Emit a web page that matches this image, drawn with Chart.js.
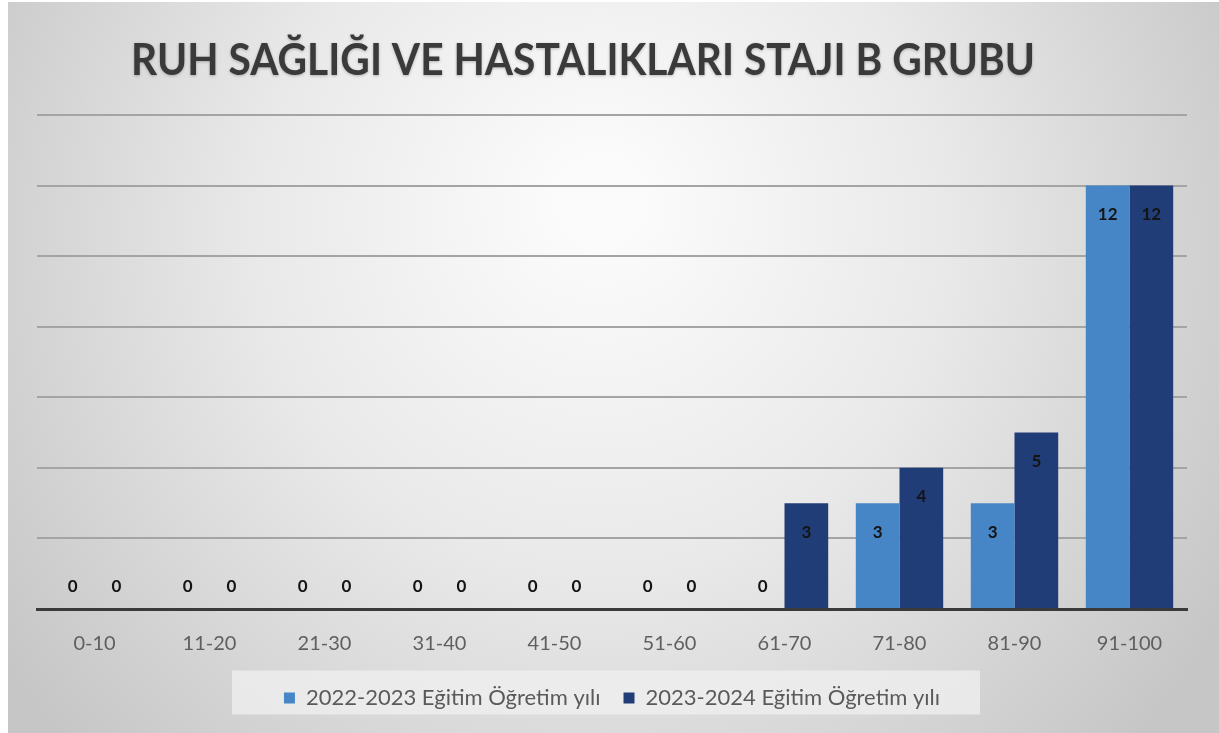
<!DOCTYPE html>
<html>
<head>
<meta charset="utf-8">
<script src="https://cdn.jsdelivr.net/npm/chart.js@4.4.1/dist/chart.umd.min.js"></script>
<style>
  html, body { margin: 0; padding: 0; background: #ffffff; }
  #wrap { width: 1219px; height: 733px; }
</style>
</head>
<body>
<div id="wrap"><canvas id="grades" width="1219" height="733"></canvas></div>
<script>
const chartTitle = 'RUH SAĞLIĞI VE HASTALIKLARI STAJI B GRUBU';
const gradeRanges = ['0-10', '11-20', '21-30', '31-40', '41-50', '51-60', '61-70', '71-80', '81-90', '91-100'];
const seriesNames = ['2022-2023 Eğitim Öğretim yılı', '2023-2024 Eğitim Öğretim yılı'];
const counts2022 = [0, 0, 0, 0, 0, 0, 0, 3, 3, 12];
const counts2023 = [0, 0, 0, 0, 0, 0, 3, 4, 5, 12];

const lightBlue = '#4686c6';
const darkBlue = '#213d78';

// gray slide-style backdrop, bright in the upper middle
const backdrop = {
  id: 'backdrop',
  beforeDraw(chart) {
    const { ctx, width, height } = chart;
    ctx.save();
    ctx.fillStyle = '#ffffff';
    ctx.fillRect(0, 0, width, height);
    const g = ctx.createRadialGradient(600, 200, 40, 600, 260, 720);
    g.addColorStop(0, '#fbfbfb');
    g.addColorStop(0.45, '#e9e9e9');
    g.addColorStop(1, '#c6c6c6');
    ctx.fillStyle = g;
    ctx.fillRect(8, 2, width - 8, height - 2);

    // panel behind the legend
    const lg = chart.legend;
    if (lg && lg.width) {
      ctx.fillStyle = 'rgba(240,240,240,0.75)';
      const mid = lg.top + lg.height / 2;
      ctx.fillRect(232, mid - 21, 748, 44);
    }
    ctx.restore();
  }
};

// big squeezed heading
const heading = {
  id: 'heading',
  afterDraw(chart) {
    const { ctx } = chart;
    ctx.save();
    ctx.font = 'bold 44px Lato';
    ctx.fillStyle = '#3a3a3a';
    ctx.textAlign = 'center';
    ctx.textBaseline = 'middle';
    ctx.shadowColor = 'rgba(0,0,0,0.25)';
    ctx.shadowBlur = 3;
    ctx.shadowOffsetY = 1;
    ctx.fillText(chartTitle, 583, 61, 904);
    ctx.restore();
  }
};

// value labels: inside the top of each bar, just above the axis for zeros
const valueLabels = {
  id: 'valueLabels',
  afterDatasetsDraw(chart) {
    const { ctx } = chart;
    ctx.save();
    ctx.font = 'bold 17px Lato';
    ctx.fillStyle = '#141414';
    ctx.textAlign = 'center';
    ctx.textBaseline = 'middle';
    chart.data.datasets.forEach((ds, i) => {
      const meta = chart.getDatasetMeta(i);
      meta.data.forEach((bar, j) => {
        const v = ds.data[j];
        const y = v === 0 ? bar.y - 22 : bar.y + 29;
        ctx.fillText(String(v), bar.x, y);
      });
    });
    ctx.restore();
  }
};

new Chart(document.getElementById('grades').getContext('2d'), {
  type: 'bar',
  data: {
    labels: gradeRanges,
    datasets: [
      { label: seriesNames[0], data: counts2022, backgroundColor: lightBlue },
      { label: seriesNames[1], data: counts2023, backgroundColor: darkBlue }
    ]
  },
  options: {
    responsive: false,
    animation: false,
    devicePixelRatio: 1,
    datasets: {
      bar: { categoryPercentage: 0.76, barPercentage: 1.0 }
    },
    layout: {
      padding: { left: 37, right: 32, top: 115, bottom: 14 }
    },
    scales: {
      x: {
        grid: { display: false },
        border: { display: true, color: '#3a3a3a', width: 3 },
        ticks: {
          color: '#5f5f5f',
          font: { family: 'Lato', size: 20 },
          padding: 15
        },
        afterFit(scale) {
          scale.height = 55;
        }
      },
      y: {
        min: 0,
        max: 14,
        ticks: { display: false, stepSize: 2 },
        border: { display: false },
        grid: { color: '#a4a4a4', lineWidth: 2, drawTicks: false }
      }
    },
    plugins: {
      title: { display: false },
      tooltip: { enabled: false },
      legend: {
        position: 'bottom',
        labels: {
          color: '#5a5a5a',
          font: { family: 'Lato', size: 22 },
          boxWidth: 11,
          boxHeight: 11,
          padding: 23
        }
      }
    }
  },
  plugins: [backdrop, valueLabels, heading]
});
</script>
</body>
</html>
